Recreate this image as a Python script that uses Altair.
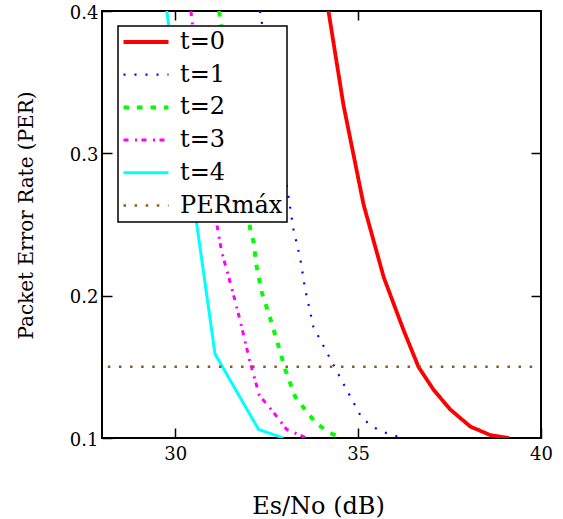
import altair as alt
import pandas as pd

series = ["t=0", "t=1", "t=2", "t=3", "t=4", "PERmáx"]
colors = ["#ff0000", "#0000ff", "#00ff00", "#ff00ff", "#00ffff", "#8c5a1e"]
dashes = [[1, 0], [2, 9], [5.5, 8], [5, 6.5, 2, 4.5], [1, 0], [2.5, 8.6]]
widths = [3.8, 2.2, 4, 3, 3, 2.5]

t0_x = [34.19, 34.60, 35.15, 35.70, 36.24, 36.65, 37.06, 37.52, 38.07, 38.62, 39.12]
t0_y = [0.400, 0.334, 0.264, 0.213, 0.176, 0.150, 0.134, 0.120, 0.108, 0.102, 0.100]
t1_x = [32.32, 32.77, 33.23, 33.42, 33.55, 33.78, 34.19, 34.79, 35.06, 35.29, 35.60, 36.20]
t1_y = [0.400, 0.325, 0.247, 0.226, 0.205, 0.178, 0.158, 0.129, 0.116, 0.110, 0.105, 0.100]
t2_x = [31.20, 31.65, 32.05, 32.14, 32.23, 32.37, 32.60, 32.82, 33.01, 33.28, 33.55, 33.83, 34.19, 34.56]
t2_y = [0.400, 0.320, 0.247, 0.238, 0.220, 0.202, 0.184, 0.165, 0.148, 0.129, 0.120, 0.111, 0.104, 0.100]
t3_x = [30.43, 30.80, 31.14, 31.27, 31.41, 31.55, 31.67, 31.79, 31.91, 32.03, 32.16, 32.30, 32.69, 33.05, 33.60]
t3_y = [0.400, 0.320, 0.250, 0.231, 0.218, 0.205, 0.193, 0.181, 0.168, 0.155, 0.143, 0.130, 0.118, 0.106, 0.100]
t4_x = [29.77, 31.09, 32.28, 32.96]
t4_y = [0.400, 0.159, 0.106, 0.100]
per_x = [28.16, 39.80]
per_y = [0.15, 0.15]

x_ticks = [30, 35, 40]
y_ticks = [0.1, 0.2, 0.3, 0.4]

rows = []
for name, xs, ys in zip(series,
                        [t0_x, t1_x, t2_x, t3_x, t4_x, per_x],
                        [t0_y, t1_y, t2_y, t3_y, t4_y, per_y]):
    for i, (a, b) in enumerate(zip(xs, ys)):
        rows.append({"series": name, "x": a, "y": b, "i": i})
df = pd.DataFrame(rows)

FONT = "DejaVu Serif"
xscale = alt.Scale(domain=[28, 40], nice=False, zero=False)
yscale = alt.Scale(domain=[0.1, 0.4], nice=False, zero=False)
LEX = "datum.label + '\u00a0\u00a0'"

lines = alt.Chart(df).mark_line(clip=True).encode(
    x=alt.X("x:Q", scale=xscale, title="Es/No (dB)",
            axis=alt.Axis(values=x_ticks, offset=-10, tickSize=10, labelPadding=7,
                          titleX=216, titleY=78, titleBaseline="middle",
                          titleFontSize=24)),
    y=alt.Y("y:Q", scale=yscale, title="Packet Error Rate (PER)",
            axis=alt.Axis(values=y_ticks, format=".1f", offset=-10, tickSize=10,
                          labelPadding=4, labelOffset=2, titleX=-86, titleY=204,
                          titleAngle=-90, titleAlign="center", titleBaseline="middle",
                          titleFontSize=20)),
    color=alt.Color("series:N", scale=alt.Scale(domain=series, range=colors),
                    legend=alt.Legend(title=None, labelExpr=LEX)),
    strokeDash=alt.StrokeDash("series:N", scale=alt.Scale(type="ordinal", domain=series, range=dashes),
                              legend=alt.Legend(title=None, labelExpr=LEX)),
    strokeWidth=alt.StrokeWidth("series:N", scale=alt.Scale(type="ordinal", domain=series, range=widths),
                                legend=alt.Legend(title=None, labelExpr=LEX)),
    order="i:Q",
)

frame_axes = alt.Chart(df).mark_point(opacity=0).encode(
    x=alt.X("x:Q", scale=xscale, title=None,
            axis=alt.Axis(orient="top", values=[30, 35], labels=False, offset=-9, tickSize=9)),
    y=alt.Y("y:Q", scale=yscale, title=None,
            axis=alt.Axis(orient="right", values=[0.2, 0.3], labels=False, offset=-10, tickSize=10)),
)

chart = alt.layer(lines, frame_axes).resolve_axis(
    x="independent", y="independent"
).properties(
    width=439, height=427,
    autosize=alt.AutoSizeParams(type="none"),
    padding={"left": 102, "top": 11, "right": 22, "bottom": 81},
    background="white",
).configure_view(
    stroke="black", strokeWidth=2
).configure_axis(
    domain=False, grid=False, ticks=True, tickColor="black", tickWidth=1.5,
    labelFont=FONT, labelFontSize=18, labelColor="black", labelFlush=False,
    labelOverlap=False, titleFont=FONT, titleColor="black", titleFontWeight="normal",
).configure_legend(
    orient="none", legendX=16, legendY=15, direction="vertical",
    symbolType="M-2.5,0H2.5", symbolSize=324, labelFont=FONT, labelFontSize=24,
    labelColor="black", labelOffset=22, padding=4, symbolOffset=12, rowPadding=8.7,
    strokeColor="black", strokeWidth=1.5, fillColor="white", titleFontSize=0,
)

chart.save("out.html", embed_options={"renderer": "svg", "actions": False})
